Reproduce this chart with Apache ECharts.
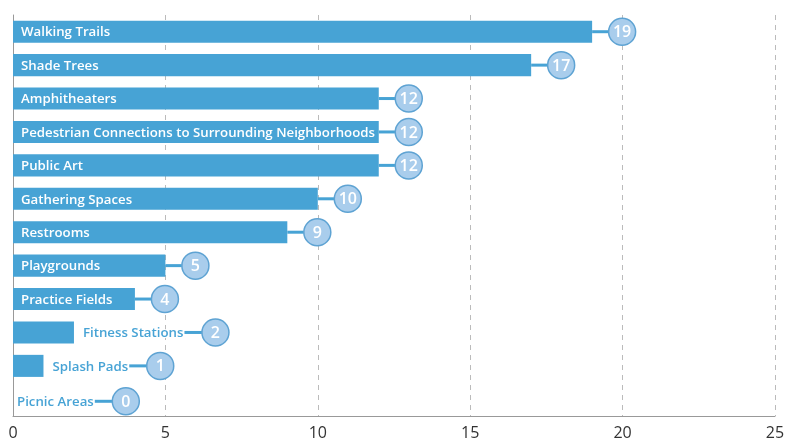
<!DOCTYPE html>
<html><head><meta charset="utf-8">
<script src="https://cdn.jsdelivr.net/npm/echarts@6/dist/echarts.min.js"></script>
<style>html,body{margin:0;padding:0;background:#fff}#c{width:788px;height:443px}</style>
</head><body><div id="c"></div>
<script>
const categories = ["Walking Trails","Shade Trees","Amphitheaters","Pedestrian Connections to Surrounding Neighborhoods","Public Art","Gathering Spaces","Restrooms","Playgrounds","Practice Fields","Fitness Stations","Splash Pads","Picnic Areas"];
const values = [19,17,12,12,12,10,9,5,4,2,1,0];
const xTicks = [0,5,10,15,20,25];

const BAR = '#47a3d5', BUB = '#a9cdec', BUBB = '#5ea3d3';
const FONT = '600 13.25px "Open Sans"';
const cv = document.createElement('canvas').getContext('2d');
cv.font = FONT;
function tw(s){ return cv.measureText(s).width; }

const chart = echarts.init(document.getElementById('c'));
chart.setOption({
  animation:false,
  grid:{left:13,right:13,top:15,bottom:27},
  xAxis:{type:'value',min:xTicks[0],max:xTicks[xTicks.length-1],interval:5,
    axisLine:{show:true,lineStyle:{color:'#999'}},axisTick:{show:false},
    axisLabel:{color:'#333',fontSize:16,fontFamily:'Open Sans',margin:9},
    splitLine:{show:true,lineStyle:{color:'#bbb',type:[5,5]}}},
  yAxis:{type:'category',data:categories,inverse:true,
    axisLine:{show:true,lineStyle:{color:'#999'}},axisTick:{show:false},axisLabel:{show:false},splitLine:{show:false}},
  series:[{
    type:'custom',
    clip:false,
    encode:{x:0,y:1},
    data: values.map((v,i)=>[v,i]),
    renderItem:function(params,api){
      const v = api.value(0), idx = api.value(1);
      const s = api.coord([0,idx]), e = api.coord([v,idx]);
      const h = api.size([0,1])[1]*0.66;
      const bw = e[0]-s[0];
      const name = categories[idx];
      const w = tw(name);
      const kids = [];
      const cy = s[1] + (v===0?2:0);
      kids.push({type:'rect',shape:{x:s[0],y:s[1]-h/2,width:bw,height:h},style:{fill:BAR}});
      let anchor, inside = (w+10 <= bw);
      if(inside){
        kids.push({type:'text',style:{x:s[0]+8,y:s[1]+1,text:name,font:FONT,fill:'#fff',verticalAlign:'middle',align:'left'}});
        anchor = e[0];
      } else {
        const tx = e[0] + (v===0?4:9);
        kids.push({type:'text',style:{x:tx,y:cy+1,text:name,font:FONT,fill:BAR,stroke:'#fff',lineWidth:2,verticalAlign:'middle',align:'left'}});
        anchor = tx + w + 1;
      }
      const cx = anchor + (inside?30:31), r = 13.5;
      kids.push({type:'line',shape:{x1:anchor,y1:cy,x2:cx-r,y2:cy},style:{stroke:BAR,lineWidth:3}});
      kids.push({type:'circle',shape:{cx:cx,cy:cy,r:r},style:{fill:BUB,stroke:BUBB,lineWidth:1.5}});
      kids.push({type:'text',style:{x:cx,y:cy+1,text:String(v),font:'600 16px "Open Sans"',fill:'#fff',align:'center',verticalAlign:'middle'}});
      return {type:'group',children:kids};
    }
  }]
});
</script></body></html>
